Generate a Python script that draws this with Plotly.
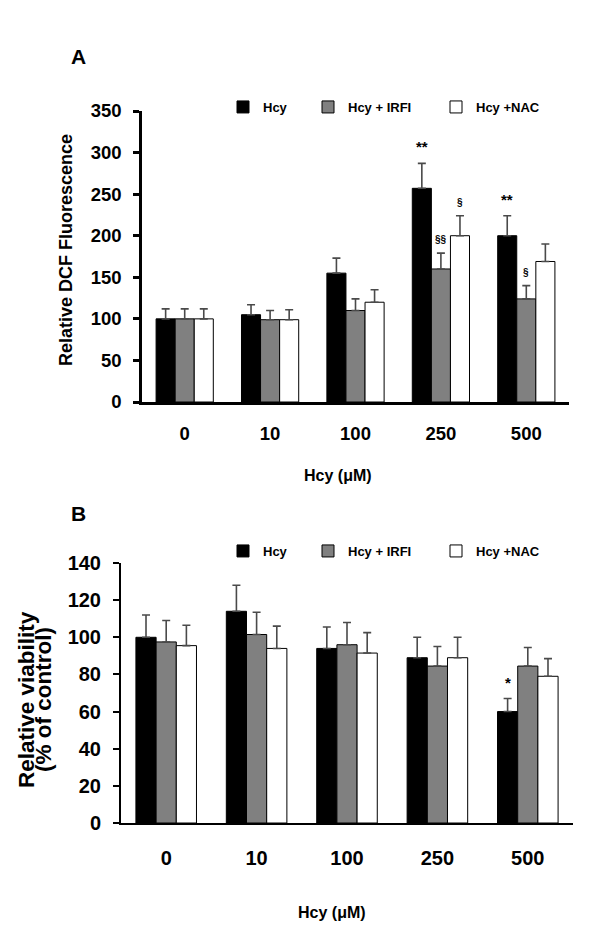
import plotly.graph_objects as go

# ---------------- data ----------------
categories = ["0", "10", "100", "250", "500"]
series_names = ["Hcy", "Hcy + IRFI", "Hcy +NAC"]

# Panel A: Relative DCF fluorescence
a_hcy = [100, 105, 155, 257, 200]
a_hcy_err = [12, 12, 18, 30, 24]
a_irfi = [100, 99, 110, 160, 124]
a_irfi_err = [12, 11, 14, 19, 16]
a_nac = [100, 99, 120, 200, 169]
a_nac_err = [12, 12, 15, 24, 21]

# Panel B: Relative viability (% of control)
b_hcy = [100, 114, 94, 89, 60]
b_hcy_err = [12, 14, 11.5, 11, 7]
b_irfi = [97.5, 101.5, 96, 84.5, 84.5]
b_irfi_err = [11.5, 12, 12, 10.5, 10]
b_nac = [95.5, 94, 91.5, 89, 79]
b_nac_err = [11, 12, 11, 11, 9.5]

# significance marks: (panel, series index, category, text, font size)
sig_marks = [
    ("A", 0, "250", "**", 15),
    ("A", 1, "250", "§§", 10),
    ("A", 2, "250", "§", 10),
    ("A", 0, "500", "**", 15),
    ("A", 1, "500", "§", 10),
    ("B", 0, "500", "*", 15),
]

# ---------------- style ----------------
W, H = 600, 935
FONT = "Liberation Sans, Arial, Helvetica, sans-serif"
fill_colors = ["#000000", "#808080", "#ffffff"]
BARGAP = 0.33

def px(x):
    return x / W

def py(y):
    return 1 - y / H

ax_A_x = [px(142), px(569)]
ax_A_y = [py(402), py(111)]
ax_B_x = [px(121), px(573)]
ax_B_y = [py(823), py(563)]
cat_range = [-0.5, len(categories) - 0.5]

fig = go.Figure()

panels = {
    "A": dict(vals=[a_hcy, a_irfi, a_nac], errs=[a_hcy_err, a_irfi_err, a_nac_err],
              xa="x", ya="y", legends=["legend", "legend2", "legend3"]),
    "B": dict(vals=[b_hcy, b_irfi, b_nac], errs=[b_hcy_err, b_irfi_err, b_nac_err],
              xa="x2", ya="y2", legends=["legend4", "legend5", "legend6"]),
}

for key, p in panels.items():
    for i, name in enumerate(series_names):
        fig.add_trace(go.Bar(
            x=categories, y=p["vals"][i], name=name,
            xaxis=p["xa"], yaxis=p["ya"],
            legend=p["legends"][i], showlegend=True,
            marker=dict(color=fill_colors[i], line=dict(color="#000000", width=1)),
            error_y=dict(type="data", array=p["errs"][i], arrayminus=[0] * len(categories),
                         symmetric=False, color="#4a4a4a", thickness=1.6, width=4),
        ))

tick_font_A = dict(family=FONT, size=18.5, color="#000", weight="bold")
tick_font_B = dict(family=FONT, size=20, color="#000", weight="bold")

layout = dict(
    width=W, height=H, autosize=False,
    margin=dict(l=0, r=0, t=0, b=0, pad=0, autoexpand=False),
    paper_bgcolor="white", plot_bgcolor="white",
    barmode="group", bargap=BARGAP, bargroupgap=0,
    font=dict(family=FONT, color="#000"),
    showlegend=True,
    xaxis=dict(domain=ax_A_x, anchor="y", type="category", range=cat_range,
               showline=True, linecolor="#000", linewidth=2.5, ticks="",
               tickfont=tick_font_A, ticklabelstandoff=13,
               showgrid=False, zeroline=False),
    yaxis=dict(domain=ax_A_y, anchor="x", range=[0, 350], dtick=50, showline=True,
               linecolor="#000", linewidth=2.5, ticks="outside", ticklen=6, tickwidth=2.5,
               tickcolor="#000", tickfont=tick_font_A, ticklabelstandoff=8,
               showgrid=False, zeroline=False),
    xaxis2=dict(domain=ax_B_x, anchor="y2", type="category", range=cat_range,
                showline=True, linecolor="#000", linewidth=2, ticks="",
                tickfont=tick_font_B, ticklabelstandoff=16,
                showgrid=False, zeroline=False),
    yaxis2=dict(domain=ax_B_y, anchor="x2", range=[0, 140], dtick=20, showline=True,
                linecolor="#000", linewidth=2, ticks="outside", ticklen=6, tickwidth=2,
                tickcolor="#000", tickfont=tick_font_B, ticklabelstandoff=8,
                showgrid=False, zeroline=False),
)

# legends: one per series, placed individually
legend_font = dict(family=FONT, size=13, color="#000", weight="bold")
legend_left_px = [242, 327, 455]
legend_keys = {"A": ["legend", "legend2", "legend3"], "B": ["legend4", "legend5", "legend6"]}
legend_y_px = {"A": 107, "B": 551}
for key, names in legend_keys.items():
    for lx, lname in zip(legend_left_px, names):
        layout[lname] = dict(
            x=px(lx - 19), y=py(legend_y_px[key]), xanchor="left", yanchor="middle",
            orientation="h", font=legend_font, bgcolor="rgba(0,0,0,0)",
            borderwidth=0, itemwidth=30, visible=True,
        )

annotations = []
def paper_note(text, x, y, size, angle=0):
    annotations.append(dict(text=text, x=px(x), y=py(y), xref="paper", yref="paper",
                            xanchor="center", yanchor="middle", showarrow=False,
                            textangle=angle,
                            font=dict(family=FONT, size=size, weight="bold", color="#000")))

# panel letters
paper_note("A", 78, 57, 21)
paper_note("B", 78, 513, 21)
# x-axis titles
paper_note("Hcy (μM)", 338, 475, 16)
paper_note("Hcy (μM)", 332, 912, 16)
# y-axis titles
paper_note("Relative DCF Fluorescence", 66, 250, 18, -90)
paper_note("Relative viability", 26, 700, 22.5, -90)
paper_note("(% of control)", 43, 700, 22.5, -90)

# significance marks placed above error bars
for panel, si, cat, txt, fs in sig_marks:
    p = panels[panel]
    dom = ax_A_x if panel == "A" else ax_B_x
    slot = (dom[1] - dom[0]) * W / len(categories)
    bar_w = slot * (1 - BARGAP) / 3
    ci = categories.index(cat)
    top = p["vals"][si][ci] + p["errs"][si][ci]
    annotations.append(dict(
        text=txt, x=ci, y=top, xref=p["xa"], yref=p["ya"],
        xanchor="center", yanchor="bottom",
        xshift=(si - 1) * bar_w, yshift=6, showarrow=False,
        font=dict(family=FONT, size=fs, weight="bold", color="#000"),
    ))

layout["annotations"] = annotations
fig.update_layout(**layout)

fig.write_html("out.html", config={"displayModeBar": False},
               post_script="document.body.style.margin='0';document.body.style.overflow='hidden';")
